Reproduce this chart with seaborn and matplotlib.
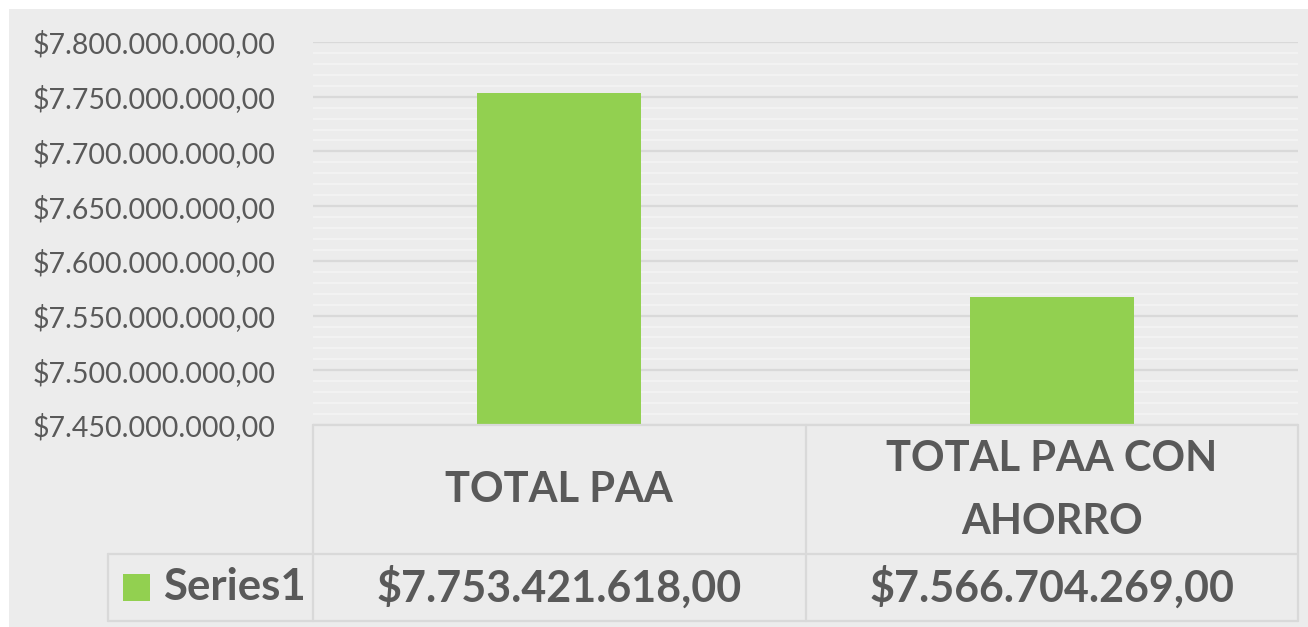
import matplotlib
matplotlib.use("Agg")
import matplotlib.pyplot as plt
from matplotlib.patches import Rectangle
from matplotlib.lines import Line2D
from matplotlib.ticker import MultipleLocator, FuncFormatter
import seaborn as sns
import pandas as pd

# Data
categories = ["TOTAL PAA", "TOTAL PAA CON\nAHORRO"]
values = [7753421618.00, 7566704269.00]
series_name = "Series1"

BAR_COLOR = "#92d050"
BG = "#ececec"
TEXT = "#595959"
GRID_MAJOR = "#d9d9d9"
GRID_MINOR = "#f4f4f4"
TABLE_LINE = "#d9d9d9"

sns.set_theme(style="white")
plt.rcParams["font.family"] = ["Lato", "DejaVu Sans"]

W, H = 1308, 627
fig = plt.figure(figsize=(W / 100, H / 100), dpi=100, facecolor="white")


def fx(px):
    return px / W


def fy(py):
    return 1 - py / H


# chart area background
fig.patches.append(Rectangle((fx(9), fy(627)), fx(1308 - 9), (627 - 9) / H,
                             transform=fig.transFigure, facecolor=BG,
                             edgecolor="none", zorder=-5))

# plot area
left, right, top, bottom = 313, 1298, 42, 425
ax = fig.add_axes([fx(left), fy(bottom), fx(right - left), (bottom - top) / H])
ax.set_facecolor(BG)

df = pd.DataFrame({"cat": categories, "val": values})
sns.barplot(data=df, x="cat", y="val", color=BAR_COLOR, width=0.333,
            saturation=1, linewidth=0, ax=ax, zorder=3)

ax.set_xlim(-0.5, 1.5)
ax.set_ylim(7.45e9, 7.8e9)
ax.yaxis.set_major_locator(MultipleLocator(50e6))
ax.yaxis.set_minor_locator(MultipleLocator(10e6))


def money(v, pos=None):
    s = f"{v:,.2f}"
    s = s.replace(",", "X").replace(".", ",").replace("X", ".")
    return "$" + s


ax.yaxis.set_major_formatter(FuncFormatter(money))
ax.grid(which="minor", axis="y", color=GRID_MINOR, linewidth=1.2, zorder=1)
ax.grid(which="major", axis="y", color=GRID_MAJOR, linewidth=1.6, zorder=2)
ax.set_axisbelow(True)
ax.tick_params(axis="y", which="both", length=0, labelsize=20.5,
               labelcolor=TEXT, pad=27)
ax.set_xticks([])
ax.set_xlabel("")
ax.set_ylabel("")
for s in ax.spines.values():
    s.set_visible(False)

# data table below the plot
row1_top, row2_top, table_bottom = 425, 554, 621
leg_left = 108
col_edges = [left, (left + right) / 2, right]


def hline(x0, x1, y):
    fig.add_artist(Line2D([fx(x0), fx(x1)], [fy(y), fy(y)],
                          transform=fig.transFigure, color=TABLE_LINE, lw=1.6))


def vline(x, y0, y1):
    fig.add_artist(Line2D([fx(x), fx(x)], [fy(y0), fy(y1)],
                          transform=fig.transFigure, color=TABLE_LINE, lw=1.6))


hline(left, right, row1_top)
hline(leg_left, right, row2_top)
hline(leg_left, right, table_bottom)
for x in col_edges:
    vline(x, row1_top, table_bottom)
vline(leg_left, row2_top, table_bottom)

for i, (cat, val) in enumerate(zip(categories, values)):
    cx = (col_edges[i] + col_edges[i + 1]) / 2
    fig.text(fx(cx), fy((row1_top + row2_top) / 2 + 1), cat, ha="center",
             va="center", fontsize=30, fontweight="bold", color=TEXT,
             linespacing=1.78)
    fig.text(fx(cx), fy((row2_top + table_bottom) / 2), money(val),
             ha="center", va="center", fontsize=31, fontweight="bold",
             color=TEXT)

# legend key
fig.patches.append(Rectangle((fx(123), fy(601)), fx(27), 27 / H,
                             transform=fig.transFigure, facecolor=BAR_COLOR,
                             edgecolor="none"))
fig.text(fx(163), fy((row2_top + table_bottom) / 2), series_name, ha="left",
         va="center", fontsize=31.5, fontweight="bold", color=TEXT)

fig.savefig("out.png", dpi=100, facecolor="white")
